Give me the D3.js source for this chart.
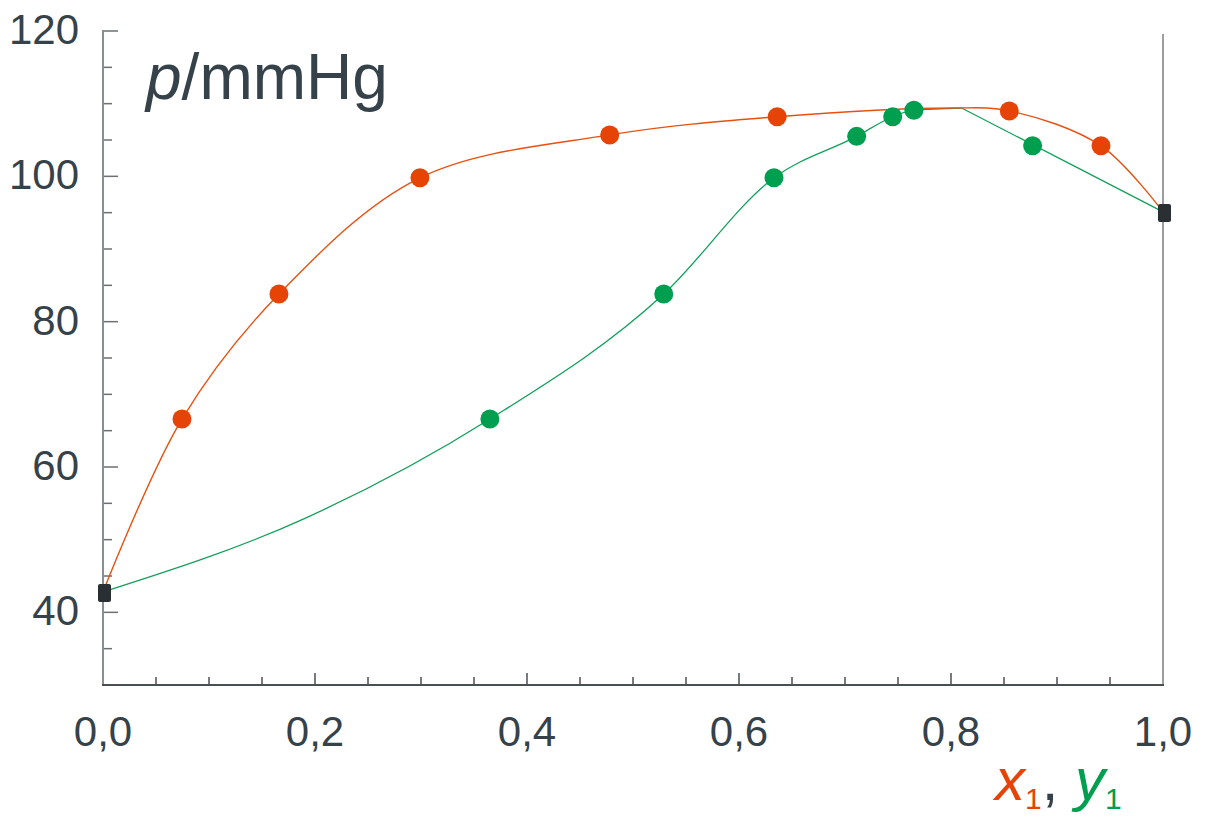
<!DOCTYPE html>
<html>
<head>
<meta charset="utf-8">
<script src="https://cdn.jsdelivr.net/npm/d3@7"></script>
<style>
  body { margin: 0; background: #fff; }
  svg { display: block; font-family: "Liberation Sans", Arial, sans-serif; }
</style>
</head>
<body>
<svg width="1205" height="817"></svg>
<script>
// liquid composition x1 and pressure p (mmHg)
const liquidX = [0.0745, 0.166, 0.299, 0.478, 0.636, 0.855, 0.9415];
const liquidP = [66.6, 83.8, 99.8, 105.7, 108.2, 109.0, 104.2];
// vapour composition y1 and pressure p (mmHg)
const vaporY = [0.365, 0.529, 0.633, 0.711, 0.745, 0.765, 0.877];
const vaporP = [66.6, 83.8, 99.8, 105.5, 108.2, 109.1, 104.2];
// pure components
const pureX = [0, 1];
const pureP = [42.8, 95.1];
// fitted curves
const liquidCurveX = [0, 0.0745, 0.166, 0.299, 0.478, 0.636, 0.80, 0.855, 0.9415, 1];
const liquidCurveP = [42.8, 66.6, 83.8, 99.8, 105.7, 108.2, 109.4, 109.0, 104.2, 95.1];
const vaporCurveX = [0, 0.19, 0.365, 0.529, 0.633, 0.711, 0.745, 0.765, 0.81];
const vaporCurveP = [42.8, 52.9, 66.6, 83.8, 99.8, 105.5, 108.2, 109.1, 109.4];
const vaporLineX = [0.81, 1];
const vaporLineP = [109.4, 95.1];

const yMajor = [40, 60, 80, 100, 120];
const xMajor = [0, 0.2, 0.4, 0.6, 0.8, 1.0];

const textCol = '#36424a';
const orange = '#e64407';
const green = '#009e4f';

const svg = d3.select('svg');
const x = d3.scaleLinear().domain([0, 1]).range([103, 1163]);
const y = d3.scaleLinear().domain([30, 120]).range([685, 31]);

const zip = (a, b) => a.map((v, i) => [v, b[i]]);

// minor ticks
const yMinor = d3.range(30, 121, 5);
const xMinor = d3.range(0, 1.0001, 0.05);

svg.append('g').selectAll('line').data(yMinor).enter().append('line')
    .attr('x1', 103).attr('x2', d => yMajor.includes(d) ? 118 : 112)
    .attr('y1', d => y(d)).attr('y2', d => y(d))
    .attr('stroke', '#6b7075').attr('stroke-width', 1.5);

svg.append('g').selectAll('line').data(xMinor).enter().append('line')
    .attr('x1', d => x(d)).attr('x2', d => x(d))
    .attr('y1', 685).attr('y2', (d, i) => i % 4 === 0 ? 673 : 677)
    .attr('stroke', '#4a4f54').attr('stroke-width', 1.5);

// axes lines
svg.append('line').attr('x1', 103).attr('x2', 103).attr('y1', 30).attr('y2', 686)
    .attr('stroke', '#8a8e92').attr('stroke-width', 2);
svg.append('line').attr('x1', 1163).attr('x2', 1163).attr('y1', 34).attr('y2', 686)
    .attr('stroke', '#9a9ea2').attr('stroke-width', 2);
svg.append('line').attr('x1', 102).attr('x2', 1164).attr('y1', 685).attr('y2', 685)
    .attr('stroke', '#4a4f54').attr('stroke-width', 2);

// tick labels
svg.append('g').selectAll('text').data(yMajor).enter().append('text')
    .attr('x', 79).attr('y', d => y(d) + 13)
    .attr('text-anchor', 'end').attr('font-size', 42).attr('fill', textCol)
    .text(d => d);

svg.append('g').selectAll('text').data(xMajor).enter().append('text')
    .attr('x', d => x(d)).attr('y', 746)
    .attr('text-anchor', 'middle').attr('font-size', 42).attr('fill', textCol)
    .text(d => d3.format('.1f')(d).replace('.', ','));

// title
const title = svg.append('text').attr('x', 146).attr('y', 99)
    .attr('font-size', 64).attr('fill', textCol);
title.append('tspan').attr('font-style', 'italic').text('p');
title.append('tspan').text('/mmHg');

// axis label
const xl = svg.append('text').attr('x', 995).attr('y', 800).attr('font-size', 60);
xl.append('tspan').attr('font-style', 'italic').attr('fill', orange).text('x');
xl.append('tspan').attr('font-size', 30).attr('dy', 9).attr('fill', orange).text('1');
xl.append('tspan').attr('dy', -9).attr('fill', textCol).text(', ');
xl.append('tspan').attr('font-style', 'italic').attr('fill', green).text('y');
xl.append('tspan').attr('font-size', 30).attr('dy', 9).attr('fill', green).text('1');

// curves
const smooth = d3.line().x(d => x(d[0])).y(d => y(d[1])).curve(d3.curveCatmullRom.alpha(0.5));
const smoothMono = d3.line().x(d => x(d[0])).y(d => y(d[1])).curve(d3.curveMonotoneX);
const straight = d3.line().x(d => x(d[0])).y(d => y(d[1]));

svg.append('path').datum(zip(vaporCurveX, vaporCurveP))
    .attr('d', smoothMono).attr('fill', 'none').attr('stroke', '#12a05a').attr('stroke-width', 1.3);
svg.append('path').datum(zip(vaporLineX, vaporLineP))
    .attr('d', straight).attr('fill', 'none').attr('stroke', '#12a05a').attr('stroke-width', 1.3);
svg.append('path').datum(zip(liquidCurveX, liquidCurveP))
    .attr('d', smooth).attr('fill', 'none').attr('stroke', '#e8500f').attr('stroke-width', 1.4);

// markers
svg.append('g').selectAll('circle').data(zip(liquidX, liquidP)).enter().append('circle')
    .attr('cx', d => x(d[0])).attr('cy', d => y(d[1])).attr('r', 9.5).attr('fill', orange);
svg.append('g').selectAll('circle').data(zip(vaporY, vaporP)).enter().append('circle')
    .attr('cx', d => x(d[0])).attr('cy', d => y(d[1])).attr('r', 9.5).attr('fill', green);

svg.append('g').selectAll('rect').data(zip(pureX, pureP)).enter().append('rect')
    .attr('x', d => x(d[0]) - 5).attr('y', d => y(d[1]) - 8)
    .attr('width', 13).attr('height', 18).attr('rx', 2)
    .attr('fill', '#2a2f33');
</script>
</body>
</html>
